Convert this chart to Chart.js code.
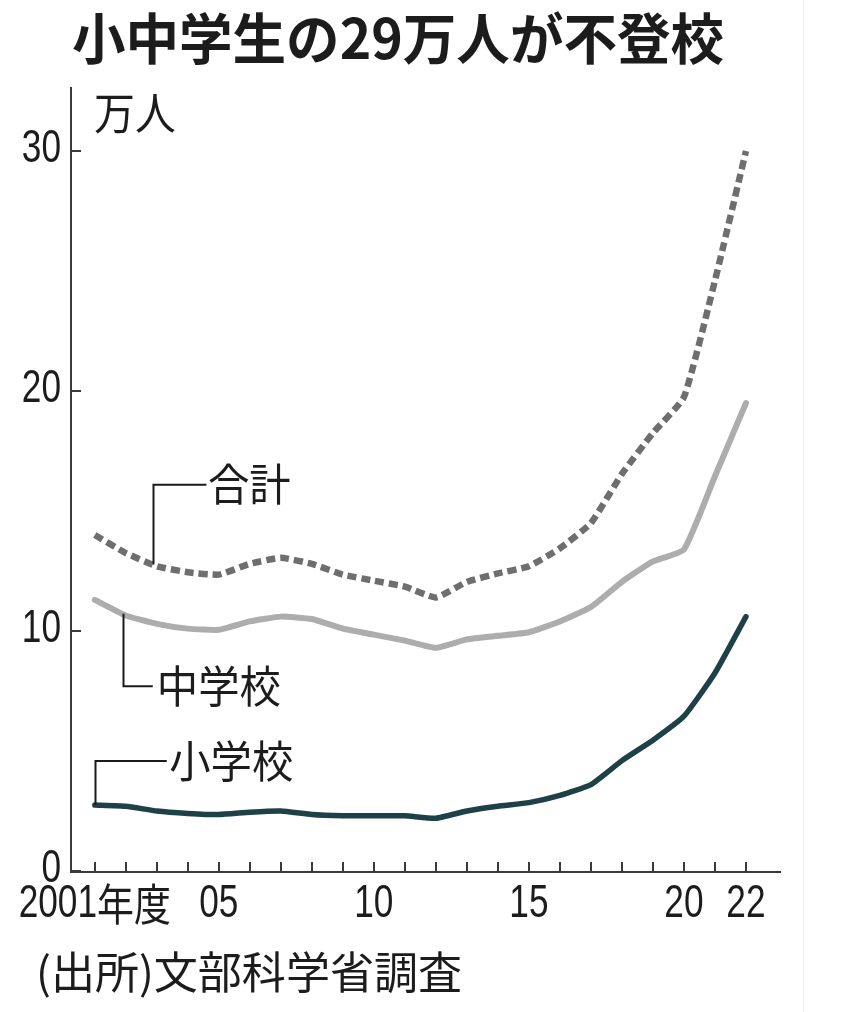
<!DOCTYPE html>
<html><head><meta charset="utf-8">
<script src="https://cdn.jsdelivr.net/npm/chart.js@4/dist/chart.umd.min.js"></script>
<style>html,body{margin:0;padding:0;background:#fff;overflow:hidden}#wrap{position:relative;width:850px;height:1012px}canvas{display:block}</style>
</head><body><div id="wrap"><canvas id="c" width="850" height="1012" style="width:850px;height:1012px"></canvas></div>
<script>
const years = [2001,2002,2003,2004,2005,2006,2007,2008,2009,2010,2011,2012,2013,2014,2015,2016,2017,2018,2019,2020,2021,2022];
const elementary = [2.75,2.7,2.5,2.4,2.35,2.45,2.5,2.35,2.3,2.3,2.3,2.2,2.5,2.7,2.85,3.15,3.6,4.6,5.45,6.45,8.25,10.6];
const juniorHigh = [11.3,10.65,10.3,10.1,10.05,10.4,10.6,10.5,10.1,9.85,9.6,9.3,9.65,9.8,9.95,10.4,11.0,12.05,12.9,13.4,16.45,19.5];
const total = [14.0,13.25,12.7,12.45,12.35,12.8,13.05,12.8,12.35,12.1,11.85,11.4,12.05,12.4,12.7,13.45,14.5,16.55,18.25,19.75,24.6,30.0];
const seriesNames = ['合計','中学校','小学校'];
const yTicks = [0,10,20,30];
const xTickYears = [2001,2005,2010,2015,2020,2022];
const xTickLabels = ['2001','05','10','15','20','22'];
const xFirstSuffix = '年度';
const titleText = '小中学生の29万人が不登校';
const unitText = '万人';
const sourceText = '(出所)文部科学省調査';

const pts = arr => arr.map((v,i)=>({x:years[i], y:v}));
const DIG = '47px "Liberation Sans", Arial, sans-serif';
const CJK = '"Noto Sans CJK JP", "Noto Sans CJK SC", sans-serif';
const INK = '#1c1c1c';

function txt(ctx, s, x, y, font, sx, align){
  ctx.save(); ctx.font = font; ctx.textBaseline = 'middle'; ctx.textAlign = 'left';
  const w = ctx.measureText(s).width * sx;
  const x0 = align === 'center' ? x - w/2 : align === 'right' ? x - w : x;
  ctx.translate(x0, y); ctx.scale(sx, 1); ctx.fillText(s, 0, 0); ctx.restore();
  return w;
}
function interp(arr, yr){
  const i = Math.floor(yr - years[0]); const f = (yr - years[0]) - i;
  if (i >= arr.length-1) return arr[arr.length-1];
  return arr[i] + (arr[i+1]-arr[i])*f;
}

const decor = {
  id:'decor',
  beforeDatasetsDraw(chart){
    const ctx = chart.ctx, xs = chart.scales.x, ys = chart.scales.y, a = chart.chartArea;
    ctx.save();
    ctx.strokeStyle = '#3a3a3a'; ctx.lineWidth = 2;
    ctx.beginPath(); ctx.moveTo(a.left+1, a.top); ctx.lineTo(a.left+1, a.bottom+1); ctx.lineTo(a.right, a.bottom+1); ctx.stroke();
    years.forEach(yr => { const px = Math.round(xs.getPixelForValue(yr)); ctx.beginPath(); ctx.moveTo(px, a.bottom); ctx.lineTo(px, a.bottom-9); ctx.stroke(); });
    yTicks.forEach(v => { const py = Math.round(ys.getPixelForValue(v)); ctx.beginPath(); ctx.moveTo(a.left, py); ctx.lineTo(a.left+11, py); ctx.stroke(); });
    ctx.restore();
  },
  afterDraw(chart){
    const ctx = chart.ctx, xs = chart.scales.x, ys = chart.scales.y, a = chart.chartArea;
    ctx.save();
    ctx.fillStyle = INK;
    yTicks.forEach(v => txt(ctx, String(v), a.left-9, ys.getPixelForValue(v)-2, DIG, 0.75, 'right'));
    xTickYears.forEach((yr,i) => {
      const px = xs.getPixelForValue(yr), py = a.bottom + 33;
      if (i === 0){
        ctx.font = DIG; const w1 = ctx.measureText(xTickLabels[i]).width*0.75;
        ctx.font = '44px '+CJK; const w2 = ctx.measureText(xFirstSuffix).width*0.84;
        const x0 = px - (w1+w2)/2;
        txt(ctx, xTickLabels[i], x0, py, DIG, 0.75, 'left');
        txt(ctx, xFirstSuffix, x0+w1, py, '44px '+CJK, 0.84, 'left');
      } else {
        txt(ctx, xTickLabels[i], px, py, DIG, 0.75, 'center');
      }
    });
    txt(ctx, unitText, a.left+24, 113, '44px '+CJK, 0.93, 'left');
    ctx.strokeStyle = '#1a1a1a'; ctx.lineWidth = 2;
    const X = v => xs.getPixelForValue(v), Y = v => ys.getPixelForValue(v);
    const leader = (arr, yr, yTo, xEnd, label, xLabel) => {
      const x0 = Math.round(X(yr))+0.5;
      ctx.beginPath(); ctx.moveTo(x0, Y(interp(arr, yr))); ctx.lineTo(x0, Y(yTo)); ctx.lineTo(X(xEnd), Y(yTo)); ctx.stroke();
      txt(ctx, label, X(xLabel), Y(yTo), '44px '+CJK, 0.94, 'left');
    };
    leader(total, 2002.87, 16.1, 2004.6, seriesNames[0], 2004.65);
    leader(juniorHigh, 2001.9, 7.7, 2002.87, seriesNames[1], 2003.0);
    leader(elementary, 2001.0, 4.58, 2003.32, seriesNames[2], 2003.4);
    ctx.font = 'bold 55px '+CJK;
    const tw = ctx.measureText(titleText).width;
    txt(ctx, titleText, 72, 38, 'bold 55px '+CJK, 652/tw, 'left');
    ctx.font = '44px '+CJK;
    const sw = ctx.measureText(sourceText).width;
    txt(ctx, sourceText, 36, 972, '44px '+CJK, 426/sw, 'left');
    ctx.strokeStyle = '#efefef'; ctx.lineWidth = 1;
    ctx.beginPath(); ctx.moveTo(803.5, 0); ctx.lineTo(803.5, 1012); ctx.stroke();
    ctx.restore();
  }
};

new Chart(document.getElementById('c'), {
  type:'line',
  data:{ datasets:[
    { label:seriesNames[0], data:pts(total), borderColor:'#6e6e6e', borderWidth:6.5, borderDash:[9,5], borderCapStyle:'butt', pointRadius:0, tension:0.15, fill:false },
    { label:seriesNames[1], data:pts(juniorHigh), borderColor:'#adadad', borderWidth:6, borderCapStyle:'round', pointRadius:0, tension:0.15, fill:false },
    { label:seriesNames[2], data:pts(elementary), borderColor:'#1e4047', borderWidth:5.5, borderCapStyle:'round', pointRadius:0, tension:0.15, fill:false }
  ]},
  options:{
    responsive:false, animation:false, devicePixelRatio:1,
    layout:{ padding:{ left:70, top:87, right:69, bottom:141 } },
    plugins:{ legend:{display:false}, tooltip:{enabled:false}, title:{display:false} },
    scales:{
      x:{ type:'linear', display:false, min:2000.2, max:2023.13 },
      y:{ display:false, min:0, max:32.67 }
    }
  },
  plugins:[decor]
});
</script></body></html>
